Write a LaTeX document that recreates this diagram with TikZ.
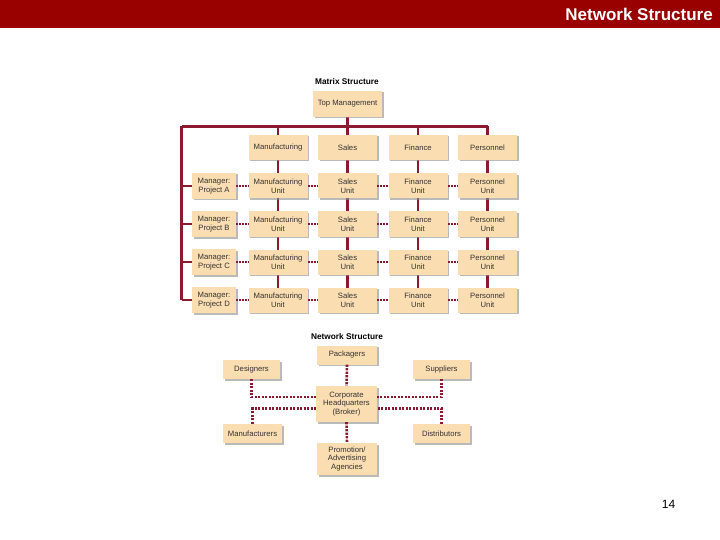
\documentclass[tikz,border=0pt]{standalone}
\usepackage{fontspec}
\setmainfont{Liberation Sans}
\usetikzlibrary{shadows,backgrounds}
\definecolor{barred}{HTML}{990000}
\definecolor{linered}{HTML}{8C1A2E}
\definecolor{boxfill}{HTML}{FBDDB2}
\tikzset{
  bx/.style={fill=boxfill, drop shadow={shadow xshift=1.5pt, shadow yshift=-1.5pt, fill=black!45, opacity=0.6},
    font=\fontsize{7.7}{8.6}\selectfont, align=center, inner sep=0pt, text=black!80,
    minimum width=59pt, minimum height=25pt},
  mgr/.style={bx, minimum width=44pt, minimum height=26pt},
  nbx/.style={bx, minimum height=19pt},
  ttl/.style={font=\bfseries\fontsize{8.3}{10}\selectfont, inner sep=0pt},
  solidln/.style={draw=linered, line width=2.2pt},
  dotln/.style={draw=linered, line width=1.6pt, dash pattern=on 1.8pt off 1.2pt},
  netln/.style={draw=linered, line width=2.6pt, dash pattern=on 2.2pt off 1.3pt}
}
\begin{document}
\begin{tikzpicture}[x=1pt,y=-1pt]
\useasboundingbox (0,0) rectangle (720,540);
% header
\fill[barred] (0,0) rectangle (720,28);
\node[anchor=east, text=white, font=\bfseries\fontsize{17}{20}\selectfont, inner sep=0pt] (hdr) at (713,14.5) {Network Structure};
\node[font=\fontsize{12}{14}\selectfont, inner sep=0pt] (pg) at (668.5,504) {14};

% ---------------- Matrix ----------------
\node[ttl] (mt) at (347,82) {Matrix Structure};
\node[bx, minimum width=69pt, minimum height=26pt] (top) at (347.5,104) {Top Management};
\node[bx] (fM) at (278,147.5) {Manufacturing};
\node[bx] (fS) at (347.5,147.5) {Sales};
\node[bx] (fF) at (418,147.5) {Finance};
\node[bx] (fP) at (487.5,147.5) {Personnel};
\foreach \r/\yy in {A/186,B/224,C/262,D/300}{
  \node[mgr] (m\r) at (214,\yy) {Manager:\\Project \r};
  \node[bx] (u\r M) at (278,\yy) {Manufacturing\\Unit};
  \node[bx] (u\r S) at (347.5,\yy) {Sales\\Unit};
  \node[bx] (u\r F) at (418,\yy) {Finance\\Unit};
  \node[bx] (u\r P) at (487.5,\yy) {Personnel\\Unit};
  \draw[dotln] (m\r.east) -- (u\r M.west);
  \draw[dotln] (u\r M.east) -- (u\r S.west);
  \draw[dotln] (u\r S.east) -- (u\r F.west);
  \draw[dotln] (u\r F.east) -- (u\r P.west);
}
\coordinate (L) at (181.5,126.5);
\coordinate (R) at (487.5,126.5);
\begin{scope}[on background layer]
  \fill[white] (0,28) rectangle (720,540);
  \draw[solidln] (L) -- (R);
  \draw[solidln] (top.center) -- (top |- L);
  \draw[solidln] (fM |- L) -- (uDM.center);
  \draw[solidln] (fS |- L) -- (uDS.center);
  \draw[solidln] (fF |- L) -- (uDF.center);
  \draw[solidln] (R) -- (uDP.center);
  \draw[solidln] (L) -- (L |- mD);
  \foreach \r in {A,B,C,D}{ \draw[solidln] (L |- m\r) -- (m\r.center); }
\end{scope}

% ---------------- Network ----------------
\node[ttl] (nt) at (347,336.5) {Network Structure};
\node[nbx, minimum width=60pt] (pack) at (347,355) {Packagers};
\node[nbx, minimum width=57pt] (des) at (251.5,369.5) {Designers};
\node[nbx, minimum width=57pt] (sup) at (441.5,369.5) {Suppliers};
\node[bx, minimum width=61pt, minimum height=36pt] (hq) at (346.5,404) {Corporate\\Headquarters\\(Broker)};
\node[nbx, minimum width=59pt] (man) at (252.5,433.5) {Manufacturers};
\node[nbx, minimum width=57pt] (dis) at (441.5,433.5) {Distributors};
\node[bx, minimum width=60pt, minimum height=32pt] (pro) at (347,459) {Promotion/\\Advertising\\Agencies};
\coordinate (hqLU) at ([yshift=7pt]hq.west);
\coordinate (hqLD) at ([yshift=-4.5pt]hq.west);
\coordinate (hqRU) at ([yshift=7pt]hq.east);
\coordinate (hqRD) at ([yshift=-4.5pt]hq.east);
\draw[netln] (pack.south) -- (hq.north);
\draw[netln] (hq.south) -- (pro.north);
\draw[netln] (des.south) |- (hqLU);
\draw[netln] (man.north) |- (hqLD);
\draw[netln] (sup.south) |- (hqRU);
\draw[netln] (dis.north) |- (hqRD);
\end{tikzpicture}
\end{document}
